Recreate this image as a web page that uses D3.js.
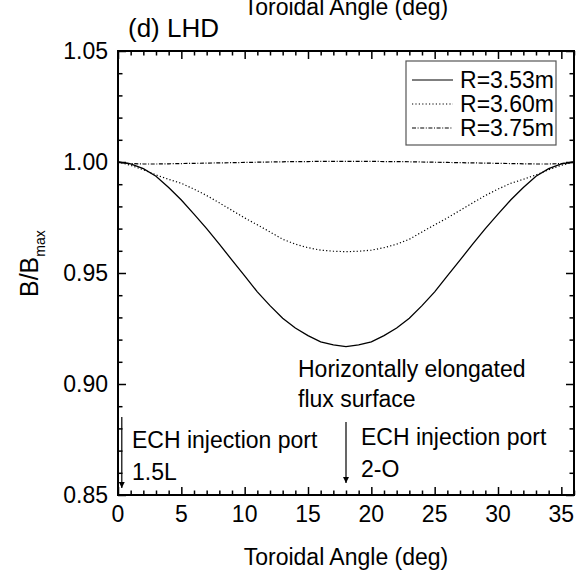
<!DOCTYPE html>
<html><head><meta charset="utf-8">
<script src="https://cdn.jsdelivr.net/npm/d3@7"></script>
<style>
html,body{margin:0;padding:0;background:#fff;}
svg text{font-family:"Liberation Sans",Arial,sans-serif;fill:#000;}
</style></head>
<body><svg id="c" width="578" height="571"></svg>
<script>
const angles = [0,1,2,3,4,5,6,7,8,9,10,11,12,13,14,15,16,17,18,19,20,21,22,23,24,25,26,27,28,29,30,31,32,33,34,35,36];
const r353 = [1.0000,0.9992,0.9970,0.9936,0.9885,0.9829,0.9765,0.9700,0.9630,0.9558,0.9487,0.9415,0.9353,0.9296,0.9252,0.9218,0.9190,0.9176,0.9168,
              0.9176,0.9190,0.9218,0.9252,0.9296,0.9353,0.9415,0.9487,0.9558,0.9630,0.9700,0.9765,0.9829,0.9885,0.9936,0.9970,0.9992,1.0000];
const r360 = [1.0000,0.9985,0.9965,0.9942,0.9922,0.9904,0.9878,0.9849,0.9816,0.9782,0.9748,0.9717,0.9685,0.9652,0.9630,0.9614,0.9603,0.9598,0.9596,
              0.9598,0.9603,0.9614,0.9630,0.9652,0.9685,0.9717,0.9748,0.9782,0.9816,0.9849,0.9878,0.9904,0.9922,0.9942,0.9965,0.9985,1.0000];
const r375 = [1.0000,0.9993,0.9991,0.9991,0.9992,0.9993,0.9994,0.9995,0.9996,0.9997,0.9998,0.9999,1.0000,1.0001,1.0002,1.0002,1.0003,1.0003,1.0003,
              1.0003,1.0003,1.0002,1.0002,1.0001,1.0000,0.9999,0.9998,0.9997,0.9996,0.9995,0.9994,0.9993,0.9992,0.9991,0.9991,0.9993,1.0000];
const seriesNames = ["R=3.53m","R=3.60m","R=3.75m"];
const seriesDash = ["none","1.2,2.2","4,1.6,1,1.6"];
const xTicks = [0,5,10,15,20,25,30,35];
const yTicks = [0.85,0.90,0.95,1.00,1.05];
const xTitle = "Toroidal Angle (deg)";
const panelTitle = "(d) LHD";
const portAngles = [0.3, 18];
const portLines = [["ECH injection port","1.5L"],["ECH injection port","2-O"]];
const noteLines = ["Horizontally elongated","flux surface"];

const svg = d3.select("#c");
const L=118,R=574,T=51,B=495;
const x = d3.scaleLinear().domain([0,36]).range([L,R]);
const y = d3.scaleLinear().domain([0.85,1.05]).range([B,T]);
const FS = 23;

function ax(gen, tr, vals, len){
  const g = svg.append("g").attr("transform",tr).call(gen.tickValues(vals).tickSize(len).tickFormat(""));
  g.select(".domain").remove();
  g.selectAll("line").attr("stroke","#000").attr("stroke-width",1.5);
  return g;
}
const xMinor = d3.range(0,37,1).filter(v=>v%5!==0);
const yMinor = d3.range(85,106,1).filter(v=>v%5!==0).map(v=>v/100);
ax(d3.axisTop(x), `translate(0,${B})`, xTicks, 8);
ax(d3.axisTop(x), `translate(0,${B})`, xMinor, 4.5);
ax(d3.axisBottom(x), `translate(0,${T})`, xTicks, 8);
ax(d3.axisBottom(x), `translate(0,${T})`, xMinor, 4.5);
ax(d3.axisRight(y), `translate(${L},0)`, yTicks, 8);
ax(d3.axisRight(y), `translate(${L},0)`, yMinor, 4.5);
ax(d3.axisLeft(y), `translate(${R},0)`, yTicks, 8);
ax(d3.axisLeft(y), `translate(${R},0)`, yMinor, 4.5);

svg.append("rect").attr("x",L).attr("y",T).attr("width",R-L).attr("height",B-T)
  .attr("fill","none").attr("stroke","#000").attr("stroke-width",2);

svg.selectAll(".xl").data(xTicks).enter().append("text")
  .attr("x",d=>x(d)).attr("y",B+27).attr("text-anchor","middle").attr("font-size",FS).text(d=>d);
svg.selectAll(".yl").data(yTicks).enter().append("text")
  .attr("x",L-10).attr("y",d=>y(d)+8).attr("text-anchor","end").attr("font-size",FS).text(d=>d.toFixed(2));

svg.append("text").attr("x",(L+R)/2).attr("y",B+70).attr("text-anchor","middle").attr("font-size",FS).text(xTitle);
svg.append("text").attr("x",(L+R)/2).attr("y",15).attr("text-anchor","middle").attr("font-size",FS).text(xTitle);
svg.append("text").attr("x",128).attr("y",37).attr("font-size",26).text(panelTitle);
const yl = svg.append("text").attr("transform",`translate(38,297) rotate(-90)`).attr("font-size",25);
yl.append("tspan").text("B/B");
yl.append("tspan").attr("dy",7).attr("font-size",14).text("max");

const line = d3.line().x((d,i)=>x(angles[i])).y(d=>y(d));
[r353,r360,r375].forEach((s,k)=>{
  svg.append("path").datum(s).attr("d",line).attr("fill","none").attr("stroke","#000")
    .attr("stroke-width",k===0?1.3:1.2).attr("stroke-dasharray",seriesDash[k]);
});

const lg = svg.append("g");
lg.append("rect").attr("x",406).attr("y",61).attr("width",150).attr("height",84)
  .attr("fill","#fff").attr("stroke","#555").attr("stroke-width",1.2);
seriesNames.forEach((n,k)=>{
  const yy = 80 + k*24;
  lg.append("line").attr("x1",412).attr("x2",453).attr("y1",yy).attr("y2",yy)
    .attr("stroke","#000").attr("stroke-width",1.2).attr("stroke-dasharray",seriesDash[k]);
  lg.append("text").attr("x",554).attr("y",yy+8).attr("text-anchor","end").attr("font-size",FS).text(n);
});

svg.append("defs").append("marker").attr("id","ah").attr("viewBox","0 0 10 10")
  .attr("refX",10).attr("refY",5).attr("markerWidth",6).attr("markerHeight",10)
  .attr("orient","auto").attr("markerUnits","userSpaceOnUse")
  .append("path").attr("d","M0,0 L10,5 L0,10 Z").attr("fill","#000");
const arrowTop=[0.8851,0.8829], arrowTip=[0.8532,0.8554];
portAngles.forEach((a,i)=>{
  svg.append("line").attr("x1",x(a)).attr("x2",x(a)).attr("y1",y(arrowTop[i])).attr("y2",y(arrowTip[i]))
    .attr("stroke","#000").attr("stroke-width",1.2).attr("marker-end","url(#ah)");
});
const portTextX=[132,361], portTextY=[448,445];
portLines.forEach((ls,i)=>{
  ls.forEach((t,j)=>{
    svg.append("text").attr("x",portTextX[i]).attr("y",portTextY[i]+j*32).attr("font-size",FS).text(t);
  });
});
noteLines.forEach((t,j)=>{
  svg.append("text").attr("x",298).attr("y",377+j*30).attr("font-size",FS).text(t);
});
</script></body></html>
